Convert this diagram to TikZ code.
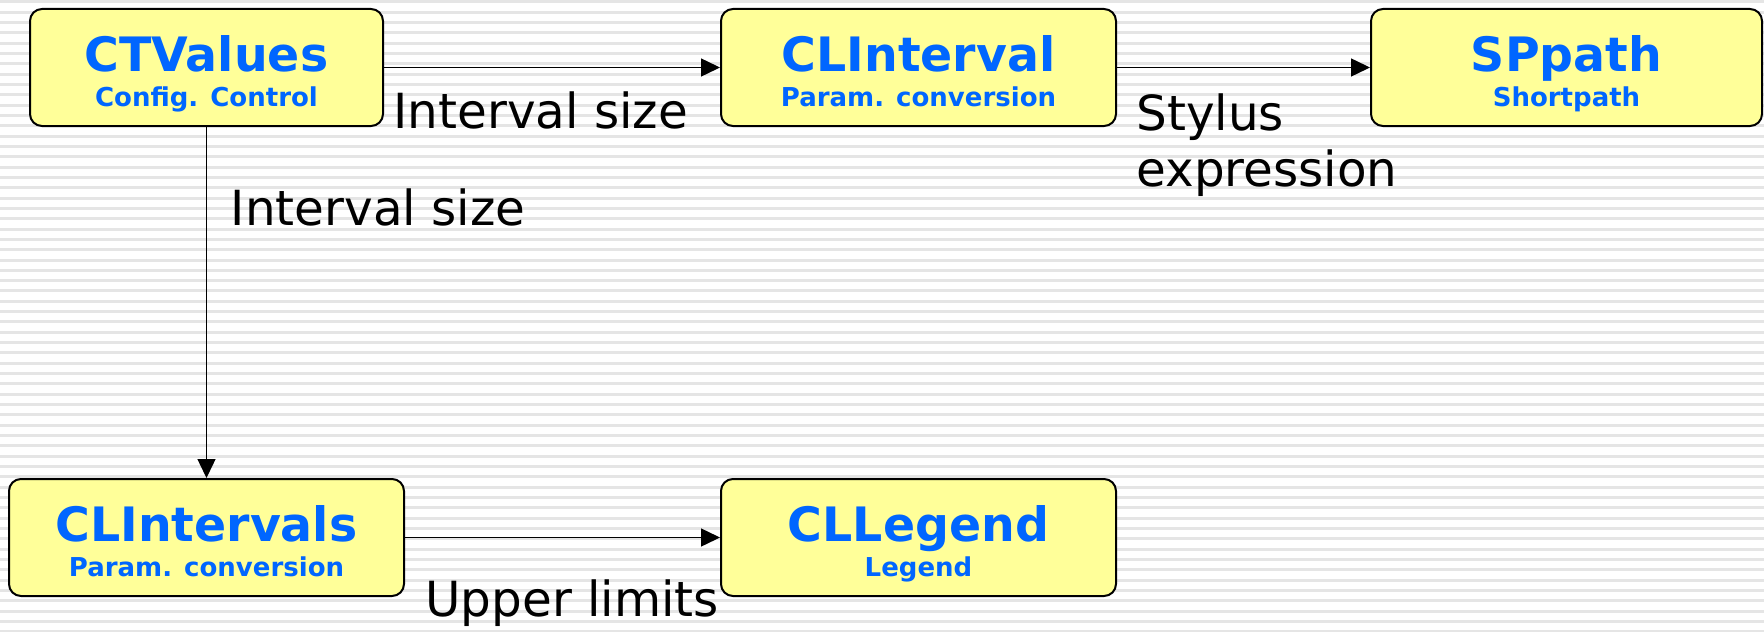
\documentclass[tikz,border=0pt]{standalone}
\usepackage{fontspec}
\setmainfont{DejaVu Sans}
\usetikzlibrary{arrows.meta}
\definecolor{boxyellow}{RGB}{255,255,153}
\definecolor{titleblue}{RGB}{0,102,255}
\definecolor{stripecol}{RGB}{229,229,229}
\begin{document}
\begin{tikzpicture}[x=0.5pt,y=-0.5pt,
  box/.style={draw=black, line width=1pt, fill=boxyellow, rounded corners=6pt, minimum height=58.5pt, inner sep=0pt},
  ttl/.style={anchor=base, text=titleblue, font=\fontsize{23.7}{28}\selectfont\bfseries, inner sep=0pt},
  sub/.style={anchor=base, text=titleblue, font=\fontsize{13}{15}\selectfont\bfseries, inner sep=0pt},
  lbl/.style={anchor=base west, font=\fontsize{24.2}{28.3}\selectfont, inner sep=0pt, align=left},
  conn/.style={line width=0.7pt, -{Triangle[length=9.5pt,width=9pt]}}]
\useasboundingbox (0,0) rectangle (1764,631);
\fill[white] (0,0) rectangle (1764,631);
\foreach \k in {0,...,61} {
  \fill[stripecol] (0,{0.25+10.33*\k}) rectangle (1764,{3.25+10.33*\k});
}
% boxes
\node[box, minimum width=176.5pt] (ctv) at (206.5,67.5) {};
\node[box, minimum width=197.5pt] (cli) at (918.5,67.5) {};
\node[box, minimum width=195.5pt] (spp) at (1566.5,67.5) {};
\node[box, minimum width=197.5pt] (clis) at (206.5,537.5) {};
\node[box, minimum width=197.5pt] (cll) at (918.5,537.5) {};
% box texts
\node[ttl] (ctvT) at (206.5,71.5) {CTValues};
\node[sub] (ctvS) at (206.5,106) {Config. Control};
\node[ttl] (cliT) at (918.5,71.5) {CLInterval};
\node[sub] (cliS) at (918.5,106) {Param. conversion};
\node[ttl] (sppT) at (1566.5,71.5) {SPpath};
\node[sub] (sppS) at (1566.5,106) {Shortpath};
\node[ttl] (clisT) at (206.5,541.5) {CLIntervals};
\node[sub] (clisS) at (206.5,576) {Param. conversion};
\node[ttl] (cllT) at (918.5,541.5) {CLLegend};
\node[sub] (cllS) at (918.5,576) {Legend};
% connectors
\draw[conn] (ctv) -- (cli);
\draw[conn] (cli) -- (spp);
\draw[conn] (ctv) -- (clis);
\draw[conn] (clis) -- (cll);
% labels
\node[lbl] (l1) at (393,128.3) {Interval size};
\node[lbl, anchor=north west] (l2) at (1136,93) {Stylus\\expression};
\node[lbl] (l3) at (230.5,225) {Interval size};
\node[lbl] (l4) at (425,616.7) {Upper limits};
\end{tikzpicture}
\end{document}
